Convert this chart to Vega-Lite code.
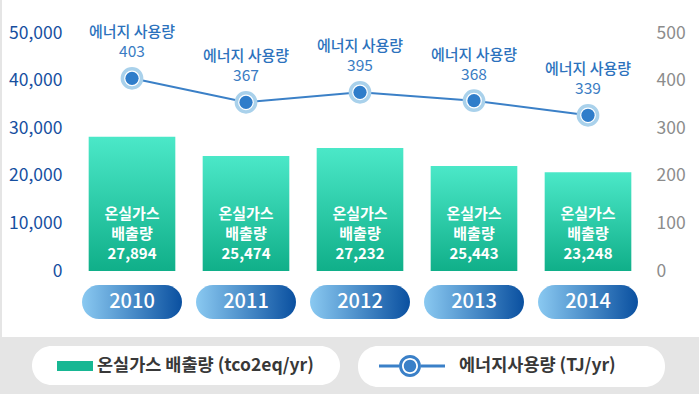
{
  "$schema": "https://vega.github.io/schema/vega-lite/v6.json",
  "width": 570,
  "height": 238,
  "autosize": {"type": "none"},
  "padding": {"left": 75, "top": 33, "right": 54, "bottom": 123},
  "background": "#e5e5e5",
  "config": {
    "view": {"fill": "white", "stroke": "white", "strokeWidth": 146},
    "font": "Noto Sans CJK KR",
    "text": {"font": "Noto Sans CJK KR"}
  },
  "data": {
    "values": [
      {"year": "2010", "bar": 28220, "value": 27894, "energy": 404.8, "energyLabel": 403},
      {"year": "2011", "bar": 24160, "value": 25474, "energy": 354.4, "energyLabel": 367},
      {"year": "2012", "bar": 25840, "value": 27232, "energy": 375.4, "energyLabel": 395},
      {"year": "2013", "bar": 22060, "value": 25443, "energy": 357.8, "energyLabel": 368},
      {"year": "2014", "bar": 20730, "value": 23248, "energy": 327.1, "energyLabel": 339}
    ]
  },
  "layer": [
    {
      "layer": [
        {
          "mark": {"type": "bar", "color": "#e5e5e5", "width": {"band": 9}},
          "encoding": {
            "x": {"datum": "2012", "type": "nominal", "axis": null},
            "y": {"datum": -13866, "type": "quantitative", "scale": {"domain": [0, 50000], "nice": false}},
            "y2": {"datum": -60000}
          }
        },
        {
          "mark": {
            "type": "bar",
            "color": {"x1": 0, "y1": 0, "x2": 0, "y2": 1, "gradient": "linear",
              "stops": [{"offset": 0, "color": "#4be8c8"}, {"offset": 1, "color": "#10af89"}]}
          },
          "encoding": {
            "x": {"field": "year", "type": "nominal", "axis": null,
              "scale": {"paddingInner": 0.24, "paddingOuter": 0.12}},
            "y": {"field": "bar", "type": "quantitative",
              "scale": {"domain": [0, 50000], "nice": false},
              "axis": {"title": null, "values": [0, 10000, 20000, 30000, 40000, 50000], "format": ",d",
                "labelExpr": "format(datum.value, ',')",
                "labelFontSize": 17.5, "labelColor": "#164f9f", "labelPadding": 13, "ticks": false, "domain": false,
                "gridColor": "#e3e3e3", "gridWidth": 2, "labelFont": "Noto Sans CJK KR"}}
          }
        },
        {
          "mark": {"type": "text", "text": ["온실가스", "배출량"], "lineHeight": 20, "color": "white", "fontSize": 15, "fontWeight": "bold", "dy": -57, "baseline": "middle"},
          "encoding": {"x": {"field": "year", "type": "nominal"}, "y": {"datum": 0, "type": "quantitative"}}
        },
        {
          "mark": {"type": "text", "color": "white", "fontSize": 15, "fontWeight": "bold", "dy": -17, "baseline": "middle"},
          "encoding": {"x": {"field": "year", "type": "nominal"}, "y": {"datum": 0, "type": "quantitative"},
            "text": {"field": "value", "type": "quantitative", "format": ","}}
        },
        {
          "mark": {"type": "bar", "cornerRadius": 17, "width": {"band": 1.154},
            "color": {"x1": 0, "y1": 0, "x2": 1, "y2": 0, "gradient": "linear",
              "stops": [{"offset": 0, "color": "#8ac9f1"}, {"offset": 1, "color": "#0a50a0"}]}},
          "encoding": {
            "x": {"field": "year", "type": "nominal"},
            "y": {"datum": -2941, "type": "quantitative"},
            "y2": {"datum": -10084}
          }
        },
        {
          "mark": {"type": "text", "color": "white", "fontSize": 20, "fontWeight": 500, "baseline": "middle"},
          "encoding": {"x": {"field": "year", "type": "nominal"}, "y": {"datum": -6513, "type": "quantitative"},
            "text": {"field": "year"}}
        },
        {
          "mark": {"type": "point", "filled": true, "opacity": 0},
          "encoding": {
            "x": {"field": "year", "type": "nominal"},
            "y": {"datum": 10000, "type": "quantitative"},
            "color": {"datum": "온실가스 배출량 (tco2eq/yr)", "type": "nominal",
              "scale": {"range": ["#17b793"]},
              "legend": {"orient": "none", "legendX": -43, "legendY": 313, "title": null,
                "fillColor": "white", "cornerRadius": 20, "padding": 10,
                "symbolType": "M-1,0M27.8,0M0.5,-0.5L4.1,-0.5L4.1,0.5L0.5,0.5Z",
                "symbolSize": 400, "symbolOpacity": 1, "symbolStrokeWidth": 0,
                "labelOffset": 35, "labelFontSize": 17.5, "labelFontWeight": "bold", "labelFont": "Noto Sans CJK KR", "labelColor": "#383838", "labelLimit": 0}}
          }
        }
      ]
    },
    {
      "layer": [
        {
          "mark": {"type": "line", "color": "#3b80c7", "strokeWidth": 2},
          "encoding": {
            "x": {"field": "year", "type": "nominal"},
            "y": {"field": "energy", "type": "quantitative",
              "scale": {"domain": [0, 500], "nice": false},
              "axis": {"orient": "right", "title": null, "values": [0, 100, 200, 300, 400, 500],
                "labelFontSize": 17.5, "labelColor": "#8c8c8c", "labelPadding": 11, "ticks": false, "domain": false,
                "grid": false, "labelFont": "Noto Sans CJK KR"}}
          }
        },
        {
          "mark": {"type": "point", "filled": true, "fill": "white", "stroke": "#a9d1eb", "strokeWidth": 3.5, "size": 370, "opacity": 1},
          "encoding": {"x": {"field": "year", "type": "nominal"}, "y": {"field": "energy", "type": "quantitative"}}
        },
        {
          "mark": {"type": "point", "filled": true, "fill": "#2f7dca", "size": 175, "opacity": 1, "strokeWidth": 0},
          "encoding": {"x": {"field": "year", "type": "nominal"}, "y": {"field": "energy", "type": "quantitative"}}
        },
        {
          "mark": {"type": "text", "text": "에너지 사용량", "color": "#2c72bd", "fontSize": 15, "fontWeight": 500, "dy": -46, "baseline": "middle"},
          "encoding": {"x": {"field": "year", "type": "nominal"}, "y": {"field": "energy", "type": "quantitative"}}
        },
        {
          "mark": {"type": "text", "color": "#3a7cc3", "fontSize": 15.5, "dy": -26, "baseline": "middle"},
          "encoding": {"x": {"field": "year", "type": "nominal"}, "y": {"field": "energy", "type": "quantitative"},
            "text": {"field": "energyLabel"}}
        },
        {
          "mark": {"type": "point", "filled": true, "opacity": 0},
          "encoding": {
            "x": {"field": "year", "type": "nominal"},
            "y": {"field": "energy", "type": "quantitative"},
            "fill": {"datum": "에너지사용량 (TJ/yr)", "type": "nominal",
              "scale": {"range": ["#3a80c8"]},
              "legend": {"orient": "none", "legendX": 283, "legendY": 313, "title": null,
                "fillColor": "white", "cornerRadius": 20, "padding": 10,
                "symbolType": "M-1,0M27.7,0M0.1,-0.15L2.1,-0.15L2.1,0.15L0.1,0.15Z M4.3,-0.15L6.7,-0.15L6.7,0.15L4.3,0.15Z M2.1,0A1.1,1.1 0 1,1 4.3,0A1.1,1.1 0 1,1 2.1,0Z M2.4,0A0.8,0.8 0 1,0 4,0A0.8,0.8 0 1,0 2.4,0Z M2.58,0A0.62,0.62 0 1,1 3.82,0A0.62,0.62 0 1,1 2.58,0Z",
                "symbolSize": 400, "symbolOpacity": 1, "symbolStrokeWidth": 0,
                "labelOffset": 71, "labelFontSize": 17.5, "labelFontWeight": "bold", "labelFont": "Noto Sans CJK KR", "labelColor": "#383838", "labelLimit": 0}}
          }
        }
      ]
    }
  ],
  "resolve": {"scale": {"y": "independent"}, "axis": {"y": "independent"}}
}
